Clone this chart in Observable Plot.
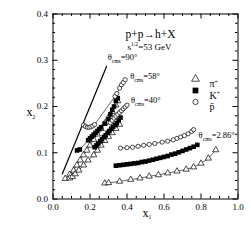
<!DOCTYPE html>
<html><head><meta charset="utf-8">
<script src="https://cdn.jsdelivr.net/npm/d3@7"></script>
<script src="https://cdn.jsdelivr.net/npm/@observablehq/plot@0.6"></script>
<style>
body{margin:0;background:#fff;}
svg{font-family:"Liberation Serif","Times New Roman",serif;}
</style></head><body><div id="chart"></div>
<script>
// ---- tick values ----
const xTicks=[0,0.2,0.4,0.6,0.8,1.0];
const xMinor=[0.05,0.1,0.15,0.25,0.3,0.35,0.45,0.5,0.55,0.65,0.7,0.75,0.85,0.9,0.95];
const yTicks=[0,0.1,0.2,0.3,0.4];
const yMinor=[0.02,0.04,0.06,0.08,0.12,0.14,0.16,0.18,0.22,0.24,0.26,0.28,0.32,0.34,0.36,0.38];

// ---- theta_cms = 90 deg reference line ----
const line90_x=[0.05,0.29];
const line90_y=[0.054,0.287];

// ---- theta_cms = 58 deg ----
const pi58_x=[0.066,0.09,0.111,0.129,0.147,0.165,0.183,0.20,0.22,0.24,0.26,0.28,0.30,0.32,0.34,0.35];
const pi58_y=[0.044,0.053,0.062,0.073,0.084,0.095,0.105,0.116,0.128,0.140,0.152,0.164,0.176,0.189,0.203,0.212];
const k58_x=[0.13,0.145,0.19,0.20,0.21,0.22,0.23,0.24,0.25,0.26,0.28,0.30,0.31,0.32,0.33,0.34,0.35];
const k58_y=[0.105,0.107,0.127,0.131,0.135,0.139,0.143,0.147,0.151,0.155,0.163,0.173,0.183,0.193,0.200,0.212,0.218];
const pb58_x=[0.165,0.175,0.185,0.195,0.205,0.215,0.225,0.335,0.345,0.36,0.37,0.38,0.39];
const pb58_y=[0.160,0.157,0.155,0.155,0.156,0.158,0.161,0.222,0.228,0.240,0.247,0.252,0.258];

// ---- theta_cms = 40 deg ----
const pi40_x=[0.09,0.105,0.12,0.14,0.165,0.19,0.22,0.24,0.26,0.28,0.30,0.32,0.34,0.36];
const pi40_y=[0.045,0.048,0.054,0.062,0.073,0.084,0.095,0.105,0.116,0.126,0.135,0.143,0.152,0.161];
const k40_x=[0.225,0.235,0.245,0.255,0.265,0.275,0.285,0.295,0.305,0.315,0.325,0.335,0.345,0.355,0.365];
const k40_y=[0.112,0.116,0.120,0.125,0.129,0.134,0.138,0.143,0.147,0.152,0.156,0.160,0.164,0.170,0.176];
const pb40_x=[0.31,0.32,0.33,0.34,0.35,0.36,0.37,0.38,0.39,0.40];
const pb40_y=[0.165,0.170,0.175,0.179,0.183,0.187,0.191,0.195,0.199,0.203];

// ---- theta_cms = 2.86 deg ----
const pi286_x=[0.28,0.30,0.36,0.42,0.47,0.52,0.57,0.62,0.67,0.72,0.76,0.80,0.84,0.88];
const pi286_y=[0.034,0.035,0.038,0.042,0.045,0.049,0.052,0.056,0.060,0.064,0.069,0.077,0.088,0.106];
const k286_x=[0.34,0.36,0.38,0.40,0.42,0.44,0.46,0.48,0.50,0.52,0.54,0.56,0.58,0.60,0.62,0.64,0.66,0.68,0.70,0.72,0.74,0.76,0.78];
const k286_y=[0.072,0.073,0.074,0.075,0.076,0.077,0.078,0.080,0.081,0.083,0.085,0.087,0.089,0.091,0.093,0.096,0.098,0.101,0.104,0.107,0.110,0.113,0.117];
const pb286_x=[0.365,0.40,0.43,0.46,0.49,0.52,0.55,0.59,0.62,0.65,0.67,0.69,0.71,0.73,0.75,0.76];
const pb286_y=[0.110,0.111,0.112,0.114,0.116,0.118,0.120,0.123,0.125,0.128,0.131,0.134,0.137,0.141,0.146,0.150];

// ---- texts ----
const titleText="p+p→h+X";
const subtitleText="s|^1/2|=53 GeV";
const xLabel="x|_1";
const yLabel="x|_2";
const legendItems=[
  {hadron:"pi", label:"π|^+"},
  {hadron:"k", label:"K|^+"},
  {hadron:"pb", label:"p\u0304"}
];

// ---- build tables ----
const series=[
  {key:"pi58",hadron:"pi",x:pi58_x,y:pi58_y},
  {key:"k58",hadron:"k",x:k58_x,y:k58_y},
  {key:"pb58",hadron:"pb",x:pb58_x,y:pb58_y},
  {key:"pi40",hadron:"pi",x:pi40_x,y:pi40_y},
  {key:"k40",hadron:"k",x:k40_x,y:k40_y},
  {key:"pb40",hadron:"pb",x:pb40_x,y:pb40_y},
  {key:"pi286",hadron:"pi",x:pi286_x,y:pi286_y},
  {key:"k286",hadron:"k",x:k286_x,y:k286_y},
  {key:"pb286",hadron:"pb",x:pb286_x,y:pb286_y}
];
const points=series.flatMap(s=>s.x.map((x,i)=>({x,y:s.y[i],key:s.key,hadron:s.hadron})));
const line90=line90_x.map((x,i)=>({x,y:line90_y[i]}));
const lastOf=(xs,ys)=>({x:xs[xs.length-1],y:ys[ys.length-1]});
const angleLabels=[
  {...lastOf(line90_x,line90_y),text:"θ|_cms|=90°",dx:1,dy:-9},
  {...lastOf(pb58_x,pb58_y),text:"θ|_cms|=58°",dx:5,dy:-3},
  {...lastOf(pb40_x,pb40_y),text:"θ|_cms|=40°",dx:4,dy:-5},
  {...lastOf(pb286_x,pb286_y),text:"θ|_cms|=2.86°",dx:5,dy:6}
];

const W=251,H=251,mL=52.5,mR=13.5,mT=13.5,mB=52.5;
const pw=W-mL-mR, ph=H-mT-mB;
const majLen=5, minLen=2.5;
const dotStyle={
  pi:{symbol:"triangle",r:2.3,fill:"white",stroke:"black",strokeWidth:0.7},
  k:{symbol:"square",r:2.6,fill:"black",stroke:"none"},
  pb:{symbol:"circle",r:2.1,fill:"white",stroke:"black",strokeWidth:0.7}
};

const marks=[
  Plot.frame({stroke:"black",strokeWidth:1}),
  Plot.tickX(xTicks,{x:d=>d,insetTop:ph-majLen,stroke:"black"}),
  Plot.tickX(xTicks,{x:d=>d,insetBottom:ph-majLen,stroke:"black"}),
  Plot.tickX(xMinor,{x:d=>d,insetTop:ph-minLen,stroke:"black"}),
  Plot.tickX(xMinor,{x:d=>d,insetBottom:ph-minLen,stroke:"black"}),
  Plot.tickY(yTicks,{y:d=>d,insetRight:pw-majLen,stroke:"black"}),
  Plot.tickY(yTicks,{y:d=>d,insetLeft:pw-majLen,stroke:"black"}),
  Plot.tickY(yMinor,{y:d=>d,insetRight:pw-minLen,stroke:"black"}),
  Plot.tickY(yMinor,{y:d=>d,insetLeft:pw-minLen,stroke:"black"}),
  Plot.axisX(xTicks,{anchor:"bottom",tickSize:0,tickPadding:4.5,tickFormat:d=>d.toFixed(1),fontSize:9,label:null}),
  Plot.axisY(yTicks,{anchor:"left",tickSize:0,tickPadding:5,tickFormat:d=>d.toFixed(1),fontSize:9,label:null}),
  Plot.line(line90,{x:"x",y:"y",stroke:"black",strokeWidth:1.2}),
  Plot.line(points,{x:"x",y:"y",z:"key",stroke:"black",strokeWidth:0.6}),
  ...["pi","k","pb"].map(h=>Plot.dot(points.filter(p=>p.hadron===h),{x:"x",y:"y",...dotStyle[h]})),
  ...angleLabels.map(l=>Plot.text([l],{x:"x",y:"y",text:"text",textAnchor:"start",dx:l.dx,dy:l.dy,fontSize:8.5,fill:"black",className:"rich"})),
  Plot.text([titleText],{frameAnchor:"top-left",dx:150-mL,dy:29-mT,text:d=>d,textAnchor:"middle",fontSize:11.5,fill:"black"}),
  Plot.text([subtitleText],{frameAnchor:"top-left",dx:127-mL,dy:43-mT,text:d=>d,textAnchor:"start",fontSize:9,fill:"black",className:"rich"}),
  Plot.text([xLabel],{frameAnchor:"bottom-left",dx:142-mL,dy:216-(H-mB),text:d=>d,textAnchor:"start",fontSize:12,fill:"black",className:"rich"}),
  Plot.text([yLabel],{frameAnchor:"top-left",dx:26-mL,dy:107-mT,text:d=>d,textAnchor:"start",fontSize:12,fill:"black",className:"rich"}),
  ...legendItems.flatMap((it,i)=>[
    Plot.dot([it],{frameAnchor:"top-left",dx:195-mL,dy:78.5+i*11.5-mT,...dotStyle[it.hadron],r:dotStyle[it.hadron].r*1.25}),
    Plot.text([it],{frameAnchor:"top-left",dx:209-mL,dy:79.5+i*11.5-mT,text:"label",textAnchor:"start",fontSize:10,fill:"black",className:"rich"})
  ])
];

const svg=Plot.plot({
  width:W,height:H,marginLeft:mL,marginRight:mR,marginTop:mT,marginBottom:mB,
  x:{domain:[0,1]},y:{domain:[0,0.4]},
  style:{fontFamily:"'Liberation Serif','Times New Roman',serif",background:"white",color:"black"},
  marks
});

d3.select(svg).selectAll("g.rich text").each(function(){
  const el=d3.select(this);
  const raw=el.text();
  if(!raw.includes("|")) return;
  const fs=parseFloat(el.attr("font-size")||getComputedStyle(this).fontSize)||9;
  el.text("");
  let shift=0;
  raw.split("|").forEach(seg=>{
    let t=seg, target=0, size=null;
    if(seg.startsWith("_")){t=seg.slice(1);target=fs*0.3;size=fs*0.62;}
    else if(seg.startsWith("^")){t=seg.slice(1);target=-fs*0.4;size=fs*0.62;}
    const ts=el.append("tspan").text(t).attr("dy",target-shift);
    if(size) ts.attr("font-size",size);
    shift=target;
  });
});
document.getElementById("chart").append(svg);
</script></body></html>
